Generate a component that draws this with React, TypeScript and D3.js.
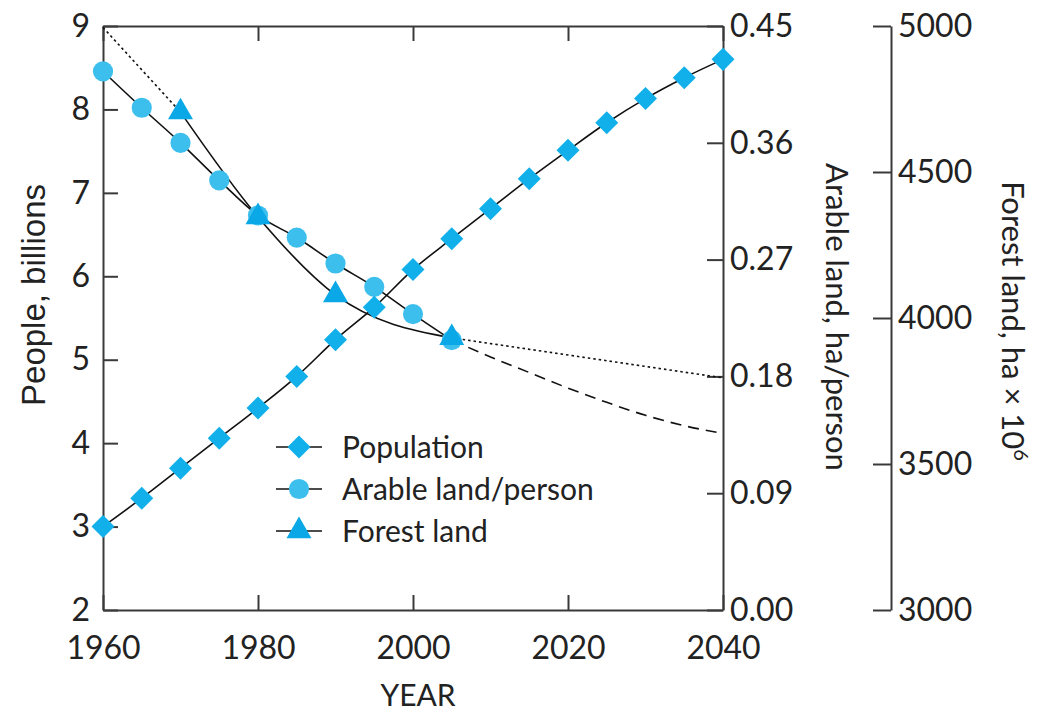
import React, { useEffect, useRef } from 'react'
import * as d3 from 'd3'

// population, billions (left axis), every 5 years
const popYears = [1960, 1965, 1970, 1975, 1980, 1985, 1990, 1995, 2000, 2005, 2010, 2015, 2020, 2025, 2030, 2035, 2040]
const popValues = [3.0, 3.34, 3.7, 4.06, 4.42, 4.8, 5.24, 5.63, 6.08, 6.45, 6.81, 7.17, 7.51, 7.84, 8.13, 8.38, 8.6]

// arable land per person, ha (middle axis)
const arableYears = [1960, 1965, 1970, 1975, 1980, 1985, 1990, 1995, 2000, 2005]
const arableValues = [0.415, 0.387, 0.36, 0.331, 0.304, 0.287, 0.267, 0.249, 0.228, 0.208]
const arableProjYears = [2005, 2010, 2015, 2020, 2025, 2030, 2035, 2040]
const arableProjValues = [0.208, 0.195, 0.183, 0.171, 0.16, 0.15, 0.142, 0.136]

// forest land, ha x 10^6 (right axis)
const forestYears = [1970, 1980, 1990, 2005]
const forestValues = [4705, 4346, 4079, 3932]
const forestEarlyYears = [1960, 1970]
const forestEarlyValues = [4995, 4705]
const forestProjYears = [2005, 2040]
const forestProjValues = [3932, 3795]

const xTicks = [1960, 1980, 2000, 2020, 2040]
const popTicks = [2, 3, 4, 5, 6, 7, 8, 9]
const arableTicks = [0, 0.09, 0.18, 0.27, 0.36, 0.45]
const forestTicks = [3000, 3500, 4000, 4500, 5000]

const legendLabels = ['Population', 'Arable land/person', 'Forest land']

const FONT = "Lato, 'Open Sans', sans-serif"

export default function App() {
  const ref = useRef<SVGSVGElement>(null)

  useEffect(() => {
    const svg = d3.select(ref.current)
    svg.selectAll('*').remove()

    const left = 103, right = 723, top = 26, bottom = 610
    const x = d3.scaleLinear().domain([1960, 2040]).range([left, right])
    const yPop = d3.scaleLinear().domain([2, 9]).range([bottom, top])
    const yAr = d3.scaleLinear().domain([0, 0.45]).range([bottom, top])
    const yFor = d3.scaleLinear().domain([3000, 5000]).range([bottom, top])

    const styleAxis = (g: any, size: number) => {
      g.selectAll('path').attr('stroke', '#3a3a3a').attr('stroke-width', 2)
      g.selectAll('line').attr('stroke', '#3a3a3a').attr('stroke-width', 2)
      g.selectAll('text').attr('fill', '#222').style('font-family', FONT).style('font-size', size + 'px')
    }

    // bottom axis
    svg.append('g')
      .attr('transform', `translate(0,${bottom})`)
      .call(d3.axisBottom(x).tickValues(xTicks).tickFormat(d3.format('d')).tickSizeInner(-15).tickSizeOuter(0).tickPadding(26))
      .call((g: any) => styleAxis(g, 32))
    // top frame
    svg.append('g')
      .attr('transform', `translate(0,${top})`)
      .call(d3.axisBottom(x).tickValues(xTicks).tickFormat(() => '').tickSizeInner(15).tickSizeOuter(0))
      .call((g: any) => styleAxis(g, 32))
    // left axis
    svg.append('g')
      .attr('transform', `translate(${left},0)`)
      .call(d3.axisLeft(yPop).tickValues(popTicks).tickFormat(d3.format('d')).tickSizeInner(-15).tickSizeOuter(0).tickPadding(13))
      .call((g: any) => styleAxis(g, 32))
    // arable axis
    svg.append('g')
      .attr('transform', `translate(${right},0)`)
      .call(d3.axisRight(yAr).tickValues(arableTicks).tickFormat(d3.format('.2f')).tickSizeInner(-16).tickSizeOuter(0).tickPadding(7))
      .call((g: any) => styleAxis(g, 32))
    // forest axis
    svg.append('g')
      .attr('transform', 'translate(891,0)')
      .call(d3.axisRight(yFor).tickValues(forestTicks).tickFormat(d3.format('d')).tickSizeInner(-18).tickSizeOuter(0).tickPadding(7))
      .call((g: any) => styleAxis(g, 32))

    // axis titles
    const title = (tx: number, ty: number, rot: number, font = FONT) =>
      svg.append('text')
        .attr('transform', `translate(${tx},${ty}) rotate(${rot})`)
        .attr('text-anchor', 'middle')
        .attr('fill', '#222')
        .style('font-family', font)
        .style('font-size', '31px')
    title(45, 295, -90, "'Liberation Sans', Arial, sans-serif").style('font-size', '33px').text('People, billions')
    title(826, 317, 90).text('Arable land, ha/person')
    const ft = title(1002, 321, 90)
    ft.append('tspan').text('Forest land, ha × 10')
    ft.append('tspan').attr('dy', -12).style('font-size', '20px').text('6')
    svg.append('text')
      .attr('x', 418).attr('y', 706)
      .attr('text-anchor', 'middle')
      .attr('fill', '#222')
      .style('font-family', FONT)
      .style('font-size', '30px')
      .text('YEAR')

    // lines
    const drawLine = (years: number[], vals: number[], y: any, dash: string | null) => {
      const pts = years.map((yr, i) => [x(yr), y(vals[i])] as [number, number])
      svg.append('path')
        .attr('d', d3.line().curve(d3.curveMonotoneX)(pts))
        .attr('fill', 'none')
        .attr('stroke', '#111')
        .attr('stroke-width', 1.6)
        .attr('stroke-dasharray', dash)
    }
    drawLine(popYears, popValues, yPop, null)
    drawLine(arableYears, arableValues, yAr, null)
    drawLine(arableProjYears, arableProjValues, yAr, '11,7')
    drawLine(forestYears, forestValues, yFor, null)
    drawLine(forestEarlyYears, forestEarlyValues, yFor, '2.5,3')
    drawLine(forestProjYears, forestProjValues, yFor, '2.5,3')

    const circle = d3.symbol().type(d3.symbolCircle).size(320)
    const tri = d3.symbol().type(d3.symbolTriangle).size(270)
    const diamond = d3.symbol().type(d3.symbolSquare).size(265)

    svg.append('g').selectAll('path')
      .data(arableYears)
      .enter().append('path')
      .attr('d', circle)
      .attr('transform', (d, i) => `translate(${x(d)},${yAr(arableValues[i])})`)
      .attr('fill', '#3dbfee')

    svg.append('g').selectAll('path')
      .data(forestYears)
      .enter().append('path')
      .attr('d', tri)
      .attr('transform', (d, i) => `translate(${x(d)},${yFor(forestValues[i])})`)
      .attr('fill', '#0aa8e6')

    svg.append('g').selectAll('path')
      .data(popYears)
      .enter().append('path')
      .attr('d', diamond)
      .attr('transform', (d, i) => `translate(${x(d)},${yPop(popValues[i])}) rotate(45)`)
      .attr('fill', '#12b0ea')

    // legend
    const symbols = [diamond, circle, tri]
    const fills = ['#12b0ea', '#3dbfee', '#0aa8e6']
    const rot = [45, 0, 0]
    const leg = svg.append('g').attr('transform', 'translate(299,447)')
    legendLabels.forEach((lab, i) => {
      const row = leg.append('g').attr('transform', `translate(0,${i * 42})`)
      row.append('line').attr('x1', -23).attr('x2', 23).attr('stroke', '#111').attr('stroke-width', 1.6)
      row.append('path').attr('d', symbols[i]).attr('fill', fills[i]).attr('transform', `rotate(${rot[i]})`)
      row.append('text')
        .attr('x', 43).attr('dy', '0.35em')
        .attr('fill', '#222')
        .style('font-family', FONT)
        .style('font-size', '30px')
        .text(lab)
    })
  }, [])

  return <svg ref={ref} width={1046} height={717} style={{ position: 'absolute', left: 0, top: 0, background: '#fff' }} />
}
